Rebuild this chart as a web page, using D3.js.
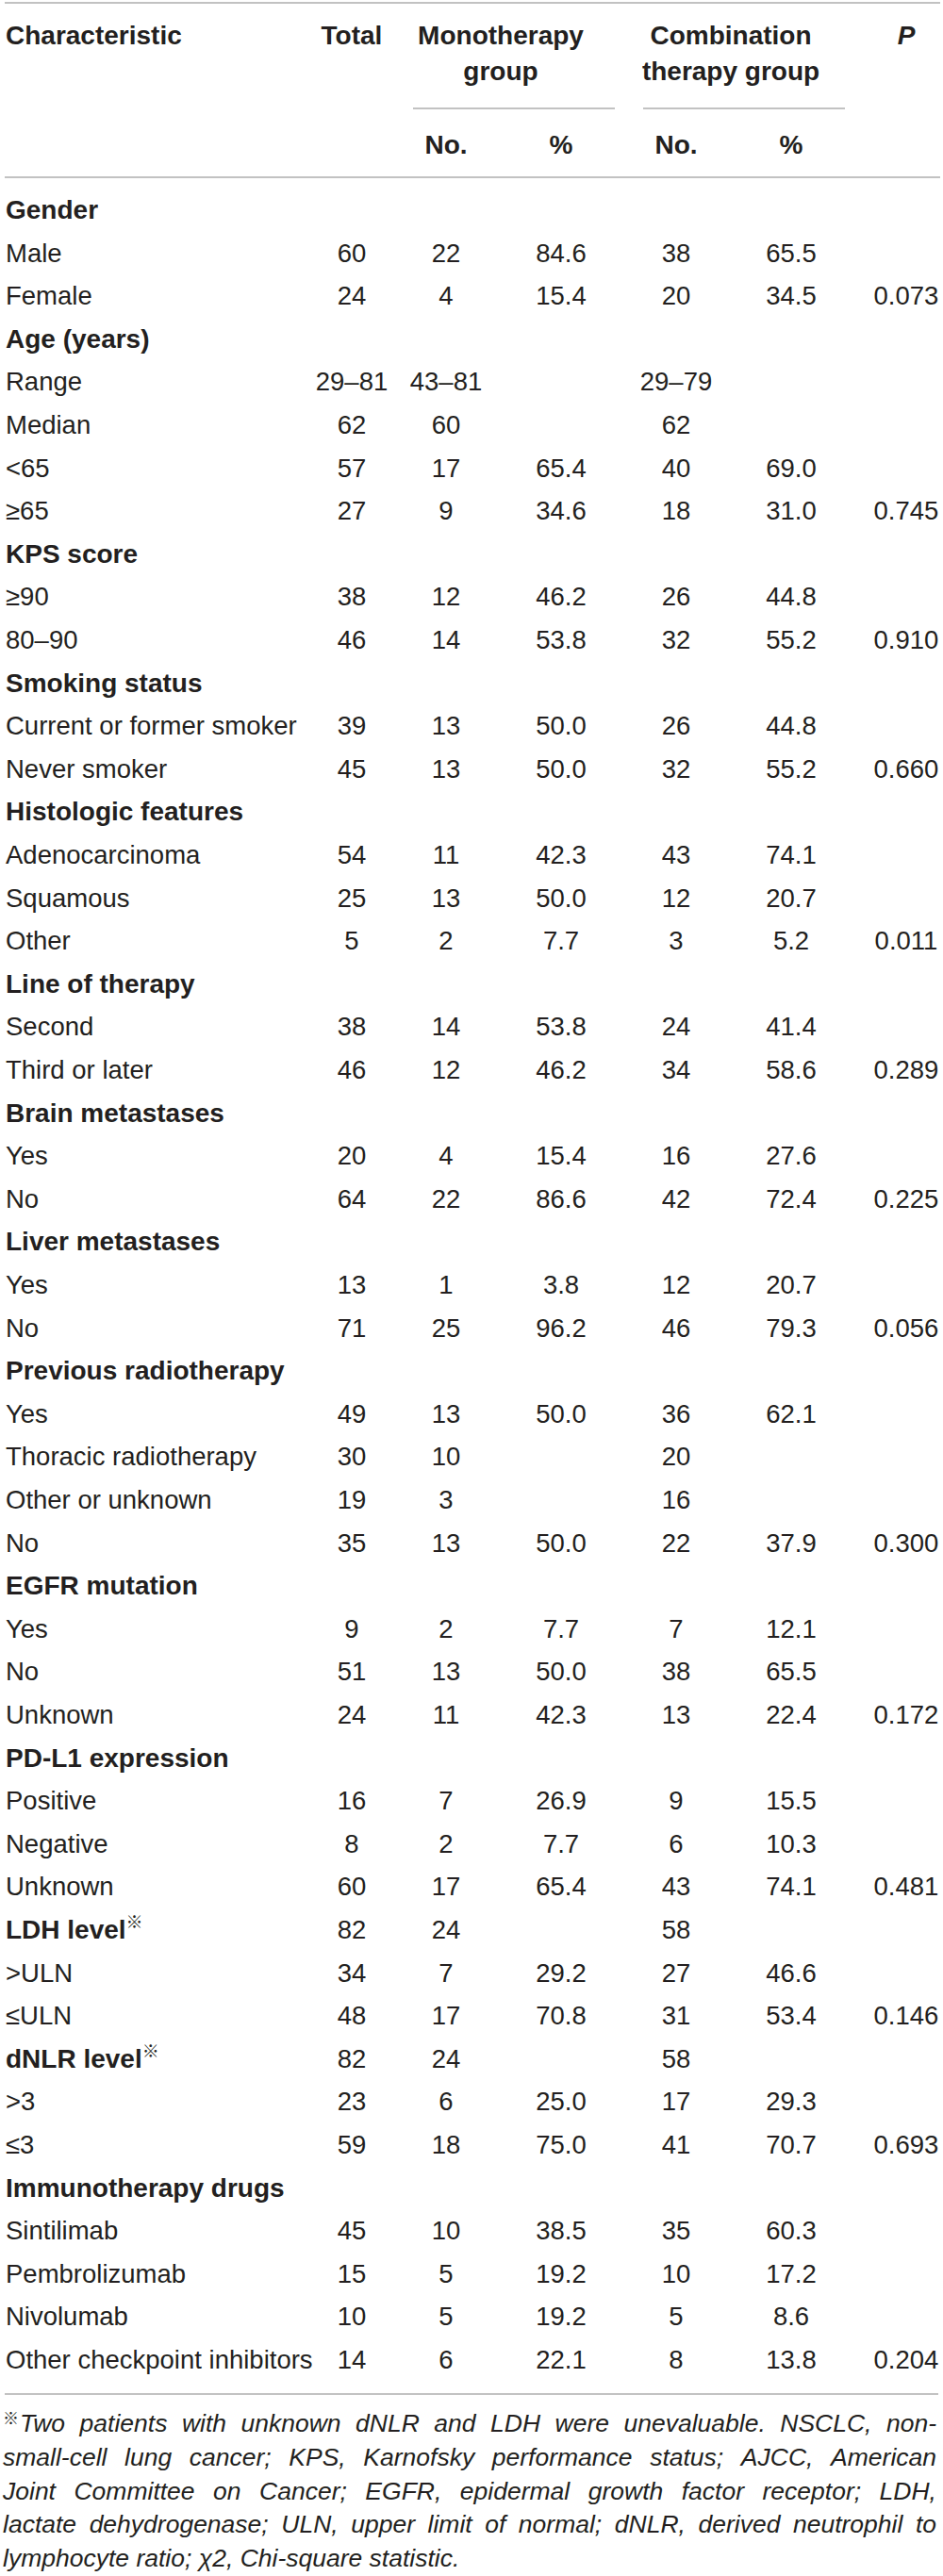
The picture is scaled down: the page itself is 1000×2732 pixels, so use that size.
<!DOCTYPE html>
<html>
<head>
<meta charset="utf-8">
<script src="https://cdn.jsdelivr.net/npm/d3@7"></script>
<style>
  body { margin: 0; background: #fff; }
  svg { display: block; font-family: "Liberation Sans", Arial, Helvetica, sans-serif; }
</style>
</head>
<body>
<div id="table"></div>
<script>
// row labels, in order, with 1 for the bold group headings
const labels = [
  'Gender', 'Male', 'Female',
  'Age (years)', 'Range', 'Median', '<65', '≥65',
  'KPS score', '≥90', '80–90',
  'Smoking status', 'Current or former smoker', 'Never smoker',
  'Histologic features', 'Adenocarcinoma', 'Squamous', 'Other',
  'Line of therapy', 'Second', 'Third or later',
  'Brain metastases', 'Yes', 'No',
  'Liver metastases', 'Yes', 'No',
  'Previous radiotherapy', 'Yes', 'Thoracic radiotherapy', 'Other or unknown', 'No',
  'EGFR mutation', 'Yes', 'No', 'Unknown',
  'PD-L1 expression', 'Positive', 'Negative', 'Unknown',
  'LDH level※', '>ULN', '≤ULN',
  'dNLR level※', '>3', '≤3',
  'Immunotherapy drugs', 'Sintilimab', 'Pembrolizumab', 'Nivolumab', 'Other checkpoint inhibitors'
]
const headingFlags = [
  1, 0, 0,
  1, 0, 0, 0, 0,
  1, 0, 0,
  1, 0, 0,
  1, 0, 0, 0,
  1, 0, 0,
  1, 0, 0,
  1, 0, 0,
  1, 0, 0, 0, 0,
  1, 0, 0, 0,
  1, 0, 0, 0,
  1, 0, 0,
  1, 0, 0,
  1, 0, 0, 0, 0
]
const totals = [
  '', '60', '24',
  '', '29–81', '62', '57', '27',
  '', '38', '46',
  '', '39', '45',
  '', '54', '25', '5',
  '', '38', '46',
  '', '20', '64',
  '', '13', '71',
  '', '49', '30', '19', '35',
  '', '9', '51', '24',
  '', '16', '8', '60',
  '82', '34', '48',
  '82', '23', '59',
  '', '45', '15', '10', '14'
]
const monoNo = [
  '', '22', '4',
  '', '43–81', '60', '17', '9',
  '', '12', '14',
  '', '13', '13',
  '', '11', '13', '2',
  '', '14', '12',
  '', '4', '22',
  '', '1', '25',
  '', '13', '10', '3', '13',
  '', '2', '13', '11',
  '', '7', '2', '17',
  '24', '7', '17',
  '24', '6', '18',
  '', '10', '5', '5', '6'
]
const monoPct = [
  '', '84.6', '15.4',
  '', '', '', '65.4', '34.6',
  '', '46.2', '53.8',
  '', '50.0', '50.0',
  '', '42.3', '50.0', '7.7',
  '', '53.8', '46.2',
  '', '15.4', '86.6',
  '', '3.8', '96.2',
  '', '50.0', '', '', '50.0',
  '', '7.7', '50.0', '42.3',
  '', '26.9', '7.7', '65.4',
  '', '29.2', '70.8',
  '', '25.0', '75.0',
  '', '38.5', '19.2', '19.2', '22.1'
]
const combNo = [
  '', '38', '20',
  '', '29–79', '62', '40', '18',
  '', '26', '32',
  '', '26', '32',
  '', '43', '12', '3',
  '', '24', '34',
  '', '16', '42',
  '', '12', '46',
  '', '36', '20', '16', '22',
  '', '7', '38', '13',
  '', '9', '6', '43',
  '58', '27', '31',
  '58', '17', '41',
  '', '35', '10', '5', '8'
]
const combPct = [
  '', '65.5', '34.5',
  '', '', '', '69.0', '31.0',
  '', '44.8', '55.2',
  '', '44.8', '55.2',
  '', '74.1', '20.7', '5.2',
  '', '41.4', '58.6',
  '', '27.6', '72.4',
  '', '20.7', '79.3',
  '', '62.1', '', '', '37.9',
  '', '12.1', '65.5', '22.4',
  '', '15.5', '10.3', '74.1',
  '', '46.6', '53.4',
  '', '29.3', '70.7',
  '', '60.3', '17.2', '8.6', '13.8'
]
const pValues = [
  '', '', '0.073',
  '', '', '', '', '0.745',
  '', '', '0.910',
  '', '', '0.660',
  '', '', '', '0.011',
  '', '', '0.289',
  '', '', '0.225',
  '', '', '0.056',
  '', '', '', '', '0.300',
  '', '', '', '0.172',
  '', '', '', '0.481',
  '', '', '0.146',
  '', '', '0.693',
  '', '', '', '', '0.204'
]
const footnoteLines = [
  'Two patients with unknown dNLR and LDH were unevaluable. NSCLC, non-',
  'small-cell lung cancer; KPS, Karnofsky performance status; AJCC, American',
  'Joint Committee on Cancer; EGFR, epidermal growth factor receptor; LDH,',
  'lactate dehydrogenase; ULN, upper limit of normal; dNLR, derived neutrophil to',
  'lymphocyte ratio; χ2, Chi-square statistic.'
]

const configs = {
  width: 1000, height: 2732,
  ink: '#231f20', rule: '#c2c2c2',
  left: 5, right: 997,
  firstRow: 232, lastRow: 2512,
  bodySize: 27.5, boldSize: 28, noteSize: 26.5
}

const svg = d3.select('#table').append('svg')
  .attr('width', configs.width)
  .attr('height', configs.height)

// column centres
const xGroups = d3.scalePoint()
  .domain(['monoNo', 'monoPct', 'combNo', 'combPct', 'p'])
  .range([473, 961])
const xTotal = 373
const y = d3.scalePoint()
  .domain(d3.range(labels.length))
  .range([configs.firstRow, configs.lastRow])

// horizontal rules
const rules = [
  { y: 3, x1: configs.left, x2: configs.right },
  { y: 188, x1: configs.left, x2: configs.right },
  { y: 2539, x1: configs.left, x2: configs.right - 2 },
  { y: 115, x1: xGroups('monoNo') - 35, x2: xGroups('monoPct') + 57 },
  { y: 115, x1: xGroups('combNo') - 35, x2: xGroups('combPct') + 57 }
]
svg.selectAll('.rule').data(rules).enter().append('line')
  .attr('class', 'rule')
  .attr('x1', d => d.x1).attr('x2', d => d.x2)
  .attr('y1', d => d.y).attr('y2', d => d.y)
  .attr('stroke', configs.rule).attr('stroke-width', 2)

// column header
const head = svg.append('g')
  .attr('font-weight', 'bold')
  .attr('font-size', configs.boldSize)
  .attr('fill', configs.ink)

head.append('text').attr('x', 6).attr('y', 47).text('Characteristic')
head.append('text').attr('x', xTotal).attr('y', 47).attr('text-anchor', 'middle').text('Total')

const groupTitles = [
  { lines: ['Monotherapy', 'group'], c: (xGroups('monoNo') - 35 + xGroups('monoPct') + 57) / 2 - 14 },
  { lines: ['Combination', 'therapy group'], c: (xGroups('combNo') - 35 + xGroups('combPct') + 57) / 2 - 14 }
]
groupTitles.forEach(g => {
  g.lines.forEach((t, i) => {
    head.append('text').attr('x', g.c).attr('y', 47 + i * 38)
      .attr('text-anchor', 'middle').text(t)
  })
})
head.append('text').attr('x', xGroups('p')).attr('y', 47)
  .attr('text-anchor', 'middle').attr('font-style', 'italic').text('P')

const subHeads = [['monoNo', 'No.'], ['monoPct', '%'], ['combNo', 'No.'], ['combPct', '%']]
head.selectAll('.sub').data(subHeads).enter().append('text')
  .attr('class', 'sub')
  .attr('x', d => xGroups(d[0])).attr('y', 163)
  .attr('text-anchor', 'middle')
  .text(d => d[1])

// body rows
const rows = svg.append('g').attr('fill', configs.ink)
  .selectAll('.row')
  .data(labels.map((l, i) => ({
    i, label: l, heading: headingFlags[i] === 1,
    cells: [
      [xTotal, totals[i]], [xGroups('monoNo'), monoNo[i]], [xGroups('monoPct'), monoPct[i]],
      [xGroups('combNo'), combNo[i]], [xGroups('combPct'), combPct[i]], [xGroups('p'), pValues[i]]
    ]
  })))
  .enter().append('g')
  .attr('class', 'row')
  .attr('transform', d => 'translate(0,' + y(d.i) + ')')

const lab = rows.append('text')
  .attr('x', 6)
  .attr('font-size', d => d.heading ? configs.boldSize : configs.bodySize)
  .attr('font-weight', d => d.heading ? 'bold' : 'normal')

lab.append('tspan').text(d => d.label.replace('※', ''))
lab.filter(d => d.label.indexOf('※') >= 0).append('tspan')
  .attr('font-family', '"Noto Sans CJK JP", "DejaVu Sans", sans-serif')
  .attr('font-weight', 'normal')
  .attr('font-size', 18)
  .attr('dy', -11)
  .text('※')

rows.selectAll('.cell')
  .data(d => d.cells.filter(c => c[1] !== ''))
  .enter().append('text')
  .attr('class', 'cell')
  .attr('x', c => c[0])
  .attr('text-anchor', 'middle')
  .attr('font-size', configs.bodySize)
  .text(c => c[1])

// footnote, justified like the journal layout
const yNote = d3.scalePoint()
  .domain(d3.range(footnoteLines.length))
  .range([2579, 2722])
const note = svg.append('g')
  .attr('fill', configs.ink)
  .attr('font-style', 'italic')
  .attr('font-size', configs.noteSize)

note.append('text')
  .attr('x', 3).attr('y', yNote(0) - 8)
  .attr('font-style', 'normal')
  .attr('font-family', '"Noto Sans CJK JP", "DejaVu Sans", sans-serif')
  .attr('font-size', 17)
  .text('※')

footnoteLines.forEach((line, li) => {
  const start = li === 0 ? 21 : 3
  const end = configs.right - 4
  const words = line.split(' ')
  const texts = words.map(w => note.append('text').attr('y', yNote(li)).text(w))
  const widths = texts.map(t => t.node().getComputedTextLength())
  const last = li === footnoteLines.length - 1
  const spaceW = configs.noteSize * 0.278
  const gap = last ? spaceW : (end - start - d3.sum(widths)) / (words.length - 1)
  let x = start
  texts.forEach((t, k) => {
    t.attr('x', x)
    x += widths[k] + gap
  })
})
</script>
</body>
</html>
